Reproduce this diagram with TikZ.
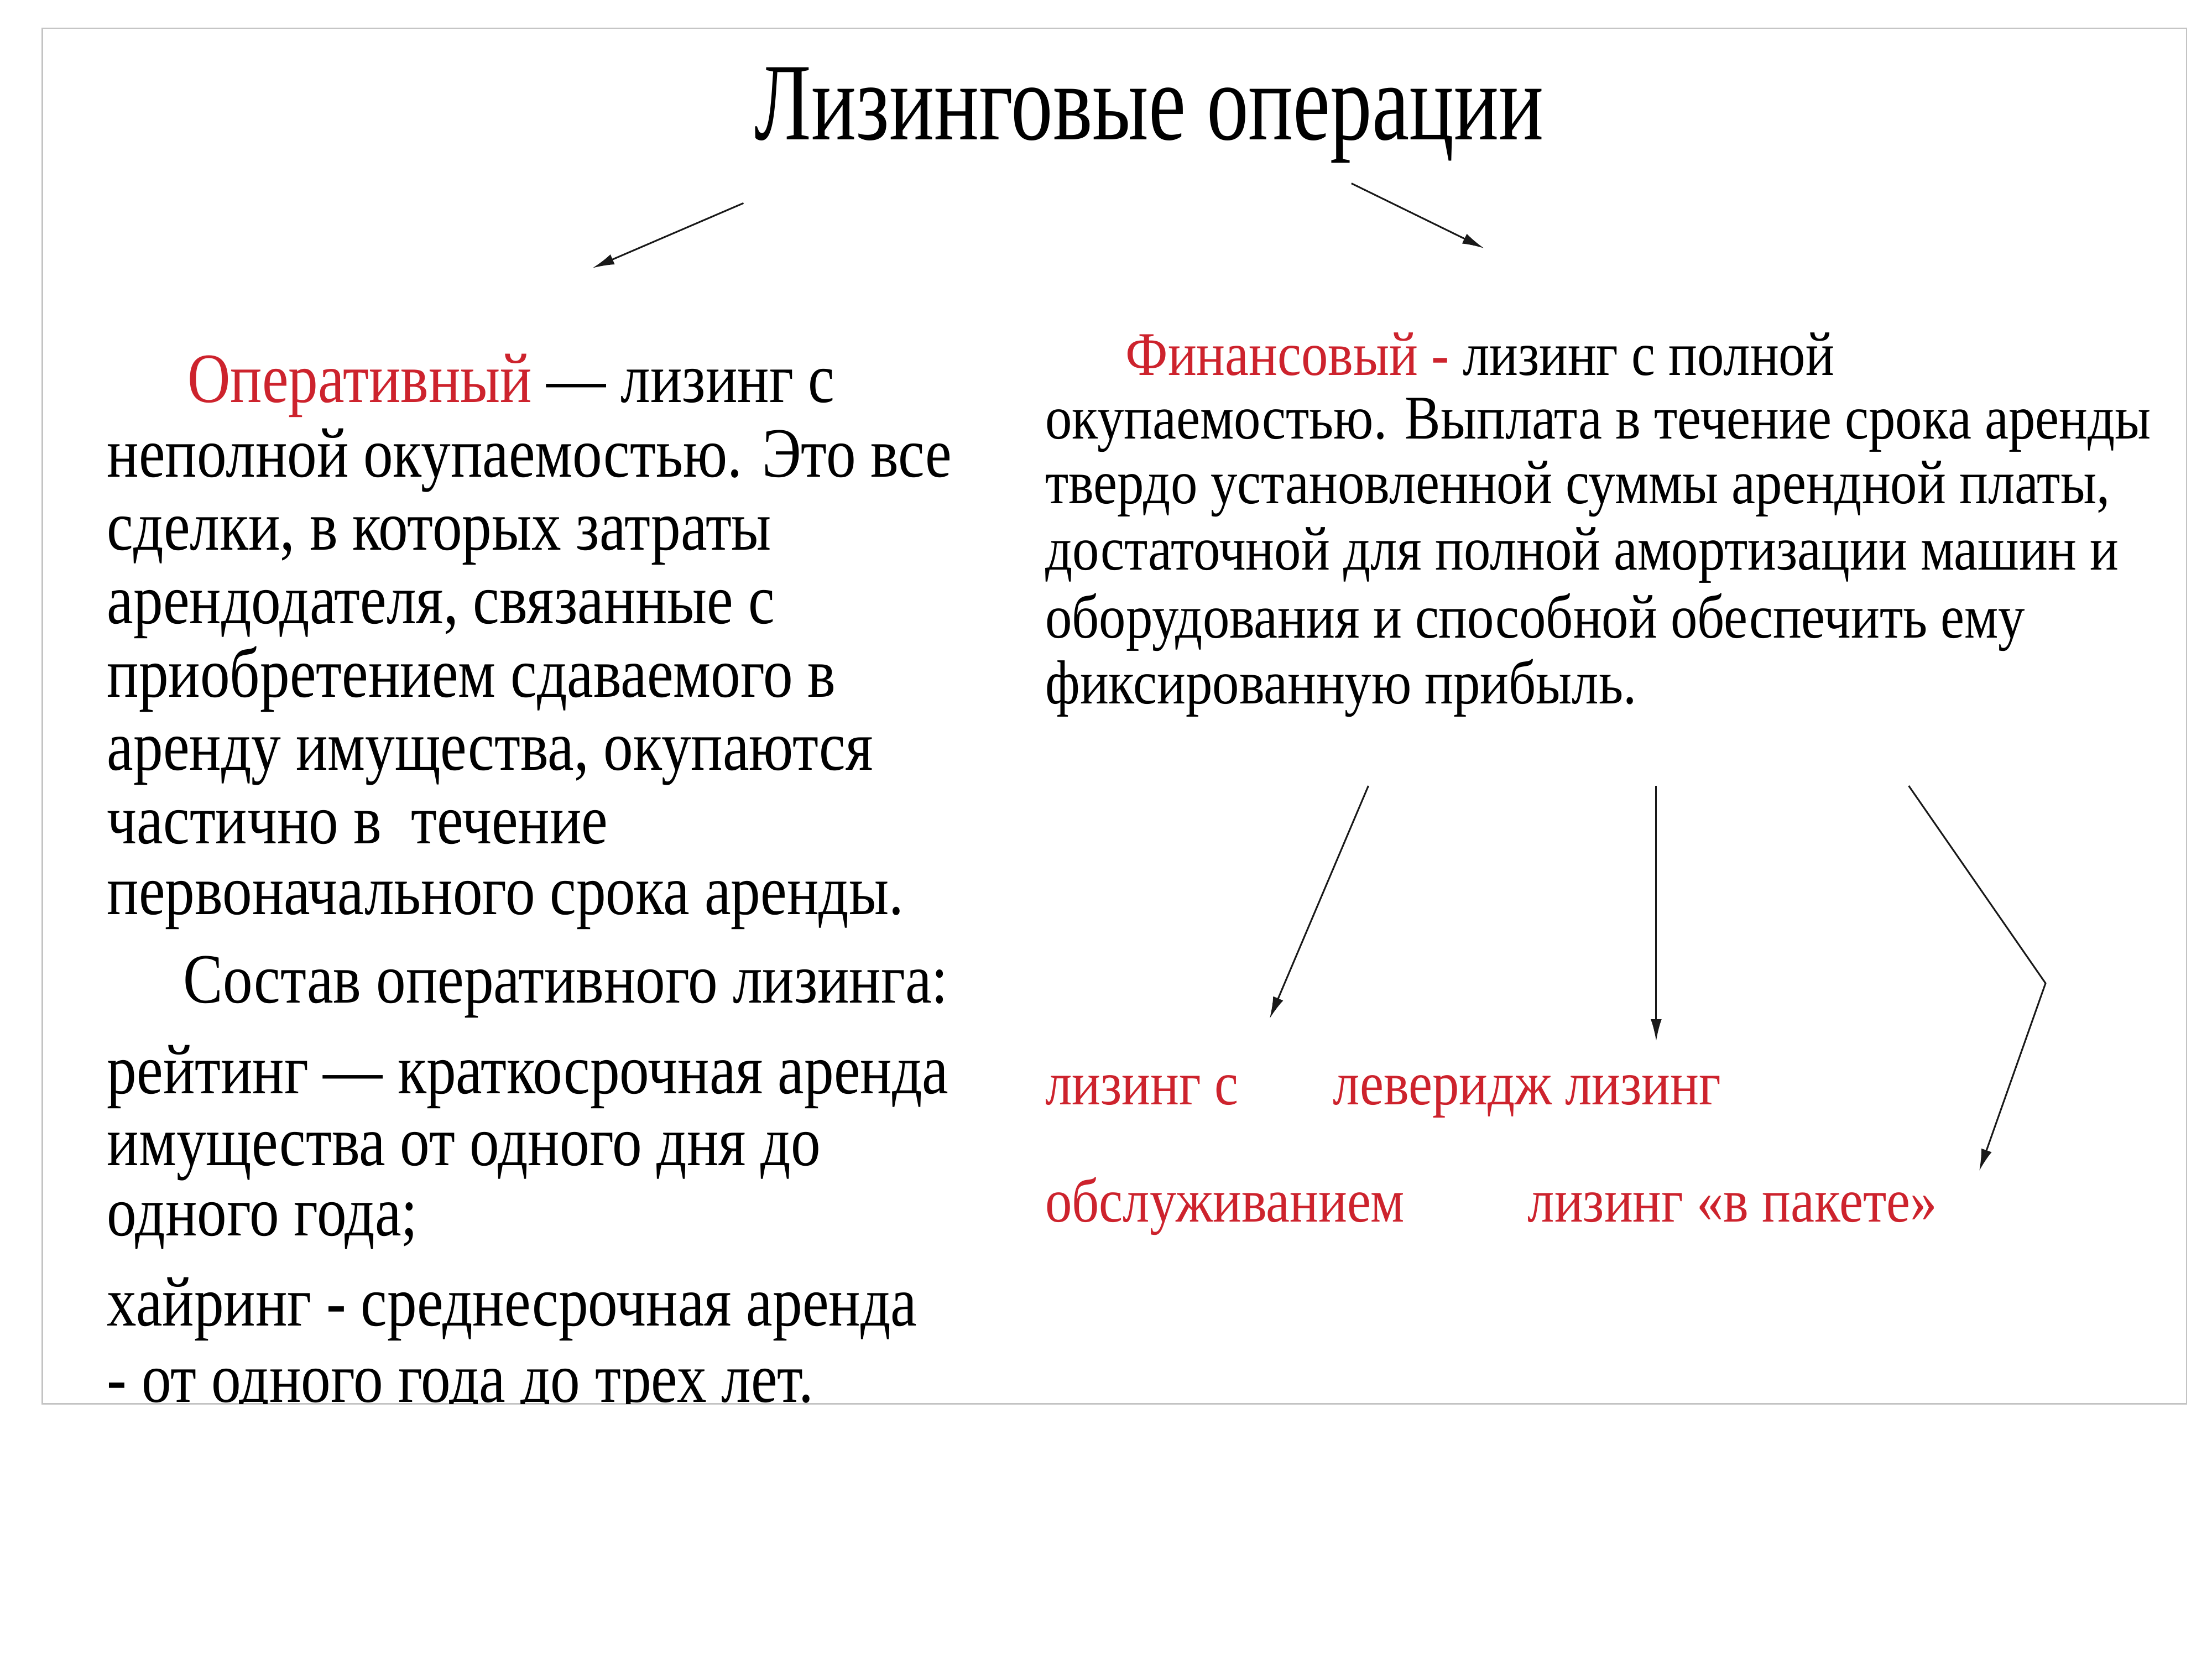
\documentclass[tikz,border=0pt]{standalone}
\usepackage{fontspec}
\setmainfont{Liberation Serif}
\newfontfamily\titlefont[FakeStretch=0.76]{Liberation Serif}
\newfontfamily\leftfont[FakeStretch=0.84]{Liberation Serif}
\newfontfamily\rightfont[FakeStretch=0.862]{Liberation Serif}
\usetikzlibrary{arrows.meta}
\definecolor{redtxt}{RGB}{205,35,45}
\definecolor{framegray}{RGB}{195,195,195}
\begin{document}
\begin{tikzpicture}[x=0.025cm,y=-0.025cm,
  ln/.style={anchor=base west,inner sep=0pt,outer sep=0pt},
  lt/.style={ln,font=\leftfont\fontsize{35.6}{37}\selectfont},
  rt/.style={ln,font=\rightfont\fontsize{31.3}{33}\selectfont},
  lab/.style={rt,text=redtxt},
  arr/.style={-{Latex[length=11pt,width=5.5pt]},line width=0.85pt,draw=black!90}]
\useasboundingbox (0,0) rectangle (1568,1176);
\draw[framegray,line width=0.7pt] (30,20) rectangle (1550,995);
\node[ln,font=\titlefont\fontsize{55.5}{58}\selectfont] (title) at (535,99) {Лизинговые операции};
\begin{scope}
\clip (30,20) rectangle (1550,995);
\node[lt] (l1) at (133,285) {\textcolor{redtxt}{Оперативный} — лизинг с};
\node[lt] (l2) at (76,338) {неполной окупаемостью. Это все};
\node[lt] (l3) at (76,390) {сделки, в которых затраты};
\node[lt] (l4) at (76,442) {арендодателя, связанные с};
\node[lt] (l5) at (76,494) {приобретением сдаваемого в};
\node[lt] (l6) at (76,546) {аренду имущества, окупаются};
\node[lt] (l7) at (76,598) {частично в\ \ течение};
\node[lt] (l8) at (76,648) {первоначального срока аренды.};
\node[lt] (l9) at (130,711) {Состав оперативного лизинга:};
\node[lt] (l10) at (76,775) {рейтинг — краткосрочная аренда};
\node[lt] (l11) at (76,826) {имущества от одного дня до};
\node[lt] (l12) at (76,876) {одного года;};
\node[lt] (l13) at (76,940) {хайринг - среднесрочная аренда};
\node[lt] (l14) at (76,994) {- от одного года до трех лет.};
\end{scope}
\node[rt] (r1) at (798,266) {\textcolor{redtxt}{Финансовый -} лизинг с полной};
\node[rt] (r2) at (741,311) {окупаемостью. Выплата в течение срока аренды};
\node[rt] (r3) at (741,357) {твердо установленной суммы арендной платы,};
\node[rt] (r4) at (741,404) {достаточной для полной амортизации машин и};
\node[rt] (r5) at (741,452) {оборудования и способной обеспечить ему};
\node[rt] (r6) at (741,499) {фиксированную прибыль.};
\node[lab] (a1) at (741,783) {лизинг с};
\node[lab] (a2) at (945,783) {леверидж лизинг};
\node[lab] (a3) at (741,866) {обслуживанием};
\node[lab] (a4) at (1083,866) {лизинг «в пакете»};
% connector end points
\coordinate (t1) at (527,144);
\coordinate (t1e) at (420,190);
\coordinate (t2) at (958,130);
\coordinate (t2e) at (1052,176);
\coordinate (f1) at (970,557);
\coordinate (f1e) at (900,722);
\coordinate (f2) at (1174,557);
\coordinate (f2e) at (1174,738);
\coordinate (f3) at (1353,557);
\coordinate (f3m) at (1450,697);
\coordinate (f3e) at (1403,830);
\draw[arr] (t1) -- (t1e);
\draw[arr] (t2) -- (t2e);
\draw[arr] (f1) -- (f1e);
\draw[arr] (f2) -- (f2e);
\draw[arr] (f3) -- (f3m) -- (f3e);
\end{tikzpicture}
\end{document}
